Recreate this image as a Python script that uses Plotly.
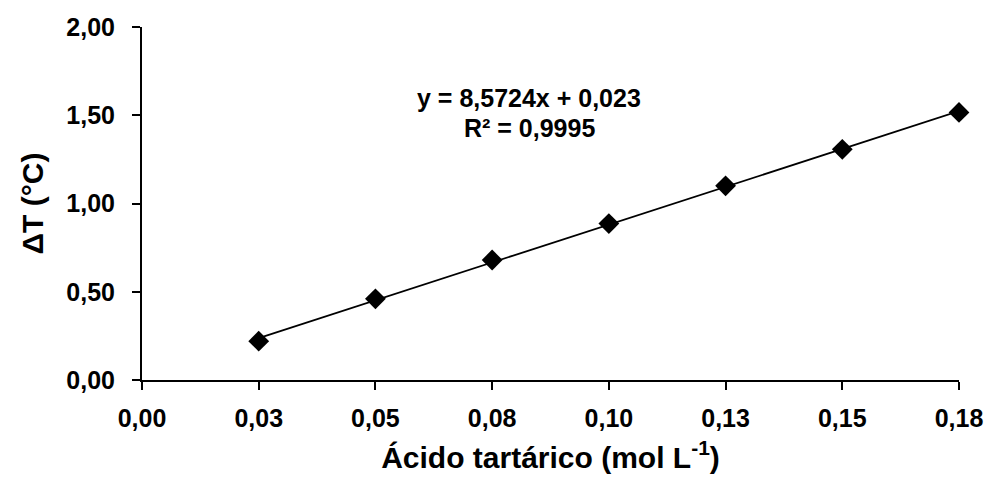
import plotly.graph_objects as go

# Data
acid_conc = [0.025, 0.05, 0.075, 0.10, 0.125, 0.15, 0.175]
delta_t = [0.22, 0.46, 0.68, 0.886, 1.10, 1.307, 1.516]
slope = 8.5724
intercept = 0.023
r_squared = "0,9995"

x_tick_vals = [0, 0.025, 0.05, 0.075, 0.10, 0.125, 0.15, 0.175]
x_tick_text = ["0,00", "0,03", "0,05", "0,08", "0,10", "0,13", "0,15", "0,18"]
y_tick_vals = [0, 0.5, 1.0, 1.5, 2.0]
y_tick_text = ["0,00", "0,50", "1,00", "1,50", "2,00"]

fit_x = [acid_conc[0], acid_conc[-1]]
fit_y = [slope * v + intercept for v in fit_x]

FONT = "Liberation Sans, Arial, sans-serif"

fig = go.Figure()
fig.add_trace(go.Scatter(
    x=fit_x, y=fit_y, mode="lines",
    line=dict(color="black", width=1.8),
    showlegend=False, hoverinfo="skip", cliponaxis=False,
))
fig.add_trace(go.Scatter(
    x=acid_conc, y=delta_t, mode="markers",
    marker=dict(symbol="diamond", size=16, color="black"),
    showlegend=False, cliponaxis=False,
))

fig.add_annotation(x=0.0829, y=1.60, xref="x", yref="y",
                   text="y = 8,5724x + 0,023", showarrow=False,
                   font=dict(family=FONT, size=25, color="black", weight="bold"))
fig.add_annotation(x=0.0829, y=1.43, xref="x", yref="y",
                   text="R² = " + r_squared, showarrow=False,
                   font=dict(family=FONT, size=25, color="black", weight="bold"))

fig.update_layout(
    width=990, height=487,
    margin=dict(l=142, r=31, t=27, b=107, pad=0, autoexpand=False),
    plot_bgcolor="white", paper_bgcolor="white",
    font=dict(family=FONT, color="black"),
)
fig.update_xaxes(
    range=[0, 0.175], tickmode="array", tickvals=x_tick_vals, ticktext=x_tick_text,
    showline=True, linecolor="black", linewidth=2, showgrid=False, zeroline=False,
    ticks="outside", ticklen=8, tickwidth=2, tickcolor="black", automargin=False,
    tickfont=dict(family=FONT, size=25, color="black", weight="bold"),
    ticklabelstandoff=7,
    title=dict(text="Ácido tartárico (mol L<sup>-1</sup>)", standoff=16,
               font=dict(family=FONT, size=30, color="black", weight="bold")),
)
fig.update_yaxes(
    range=[0, 2.0], tickmode="array", tickvals=y_tick_vals, ticktext=y_tick_text,
    showline=True, linecolor="black", linewidth=2, showgrid=False, zeroline=False,
    ticks="outside", ticklen=8, tickwidth=2, tickcolor="black", automargin=False,
    tickfont=dict(family=FONT, size=25, color="black", weight="bold"),
    ticklabelstandoff=12,
    title=dict(text="ΔT (°C)", standoff=14,
               font=dict(family=FONT, size=30, color="black", weight="bold")),
)

fig.write_html("out.html")
